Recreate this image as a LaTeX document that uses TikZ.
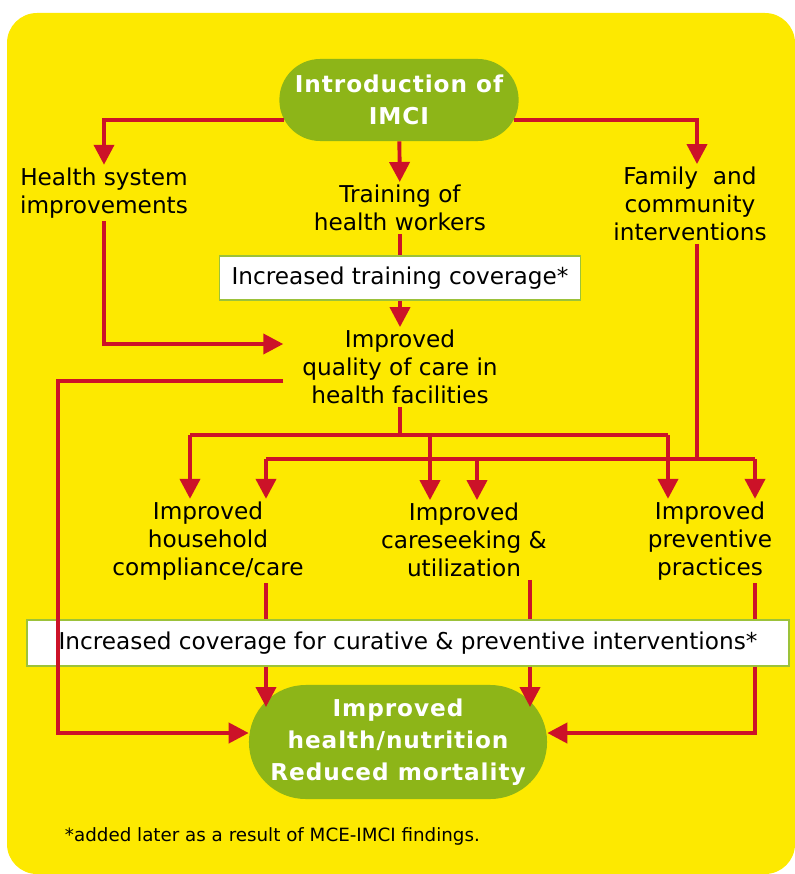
\documentclass[tikz,border=0pt]{standalone}
\usepackage{fontspec}
\setmainfont{DejaVu Sans}
\usetikzlibrary{arrows.meta,positioning,calc}
\definecolor{canary}{HTML}{FDE900}
\definecolor{crimson}{HTML}{CC1228}
\definecolor{leaf}{HTML}{8DB518}
\definecolor{leafline}{HTML}{9CC23A}
\tikzset{
caption/.style={align=center,font=\fontsize{16.5}{19.8}\selectfont,inner sep=2pt},
pill/.style={fill=leaf,text=white,align=center,font=\fontsize{16.5}{22.8}\selectfont\bfseries\addfontfeatures{LetterSpace=4}},
notebox/.style={draw=leafline,fill=white,line width=1pt,font=\fontsize{16.5}{19.8}\selectfont,inner sep=0pt},
link/.style={line width=2.8pt,draw=crimson},
flow/.style={link,-{Triangle[length=5mm,width=5mm]}},
footnote/.style={font=\fontsize{13}{15}\selectfont,anchor=west}}

\begin{document}
\begin{tikzpicture}[x=0.025cm,y=0.025cm]
\useasboundingbox (0,0) rectangle (795,-874);
\fill[canary,rounded corners=0.75cm] (7,-13) rectangle (795,-874);
% boxes
\node[pill,minimum width=5.98cm,minimum height=2.05cm,rounded corners=1.02cm] (intro) at (399,-100) {Introduction of\\IMCI};
\node[caption] (health) at (104,-193) {Health system\\improvements};
\node[caption] (training) at (400,-208) {Training of\\health workers};
\node[caption] (family) at (690,-204) {Family~ and\\community\\interventions};
\node[notebox,minimum width=9.03cm,minimum height=1.1cm] (trainbox) at (400,-278) {Increased training coverage*};
\node[caption] (quality) at (400,-367) {Improved\\quality of care in\\health facilities};
\node[caption] (household) at (208,-541) {Improved\\household\\compliance/care};
\node[caption] (careseek) at (464,-540) {Improved\\careseeking \&\\utilization};
\node[caption] (preventive) at (710,-541) {Improved\\preventive\\practices};
\node[notebox,minimum width=19.05cm,minimum height=1.15cm] (coverbox) at (408,-643) {Increased coverage for curative \& preventive interventions*};
\node[pill,minimum width=7.45cm,minimum height=2.85cm,rounded corners=1.42cm] (outcome) at (398,-742) {Improved\\health/nutrition\\Reduced mortality};
\node[footnote] (note) at (60,-836) {*added later as a result of MCE-IMCI findings.};
% free ends
\coordinate (leftrail) at (58,-733);
\coordinate (qbar) at (400,-435);
\coordinate (fbar) at (697,-459);
\coordinate (hhtip) at (266,-707);
\coordinate (cstip) at (530,-707);
% top level
\draw[flow] ($(intro.west)+(5,-20)$) -| (health.north);
\draw[flow] (intro) -- (training);
\draw[flow] ($(intro.east)+(-5,-20)$) -| ($(family.north)+(7,0)$);
\draw[link] (training) -- (trainbox);
\draw[flow] (trainbox) -- (quality);
\draw[flow] (health.south) |- ($(quality.west)+(-16,23)$);
\draw[flow] ($(quality.west)+(-16,-14)$) -| (leftrail) -- ($(outcome.west)+(0,9)$);
% fan from quality of care
\draw[link] (quality.south) -- (quality.south |- qbar);
\draw[link] (190,-435) -- (668,-435);
\foreach \x/\n in {190/household,430/careseek,668/preventive}
  \draw[flow] (\x,-435) -- (\x,0 |- \n.north);
% fan from family and community
\draw[link] ($(family.south)+(7,0)$) -- (fbar);
\draw[link] (266,-459) -- (755,-459);
\foreach \x/\n in {266/household,477/careseek,755/preventive}
  \draw[flow] (\x,-459) -- (\x,0 |- \n.north);
% down to the outcome
\draw[link] (household.south -| hhtip) -- (hhtip |- coverbox.north);
\draw[flow] (hhtip |- coverbox.south) -- (hhtip);
\draw[link] (careseek.south -| cstip) -- (cstip |- coverbox.north);
\draw[flow] (cstip |- coverbox.south) -- (cstip);
\draw[link] (preventive.south -| 755,0) -- (755,0 |- coverbox.north);
\draw[flow] (755,0 |- coverbox.south) |- ($(outcome.east)+(0,9)$);
\end{tikzpicture}
\end{document}
